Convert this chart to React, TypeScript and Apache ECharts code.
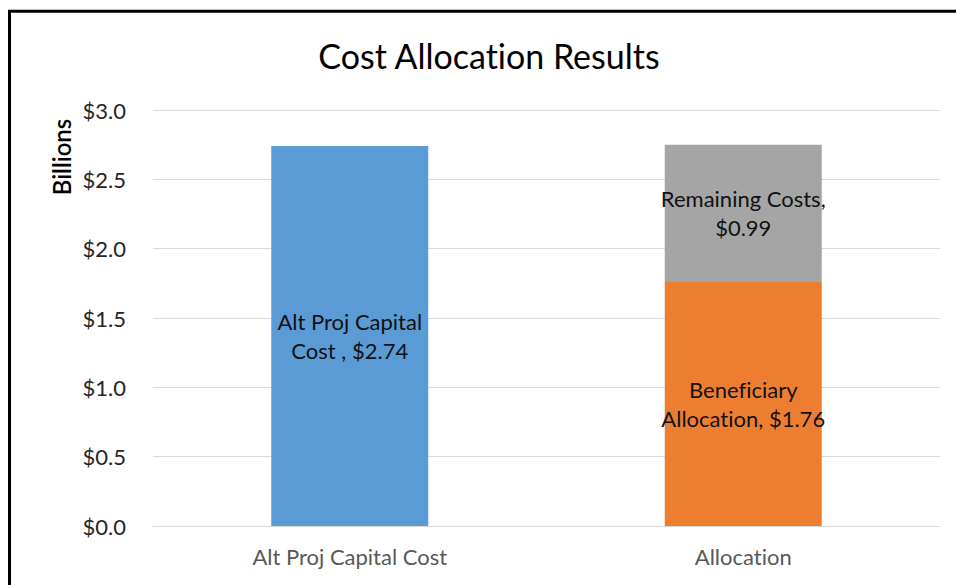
import React, { useEffect, useRef } from "react";
import * as echarts from "echarts";

const categories = ["Alt Proj Capital Cost", "Allocation"];
const capitalCost = [2.74, "-"];
const beneficiary = ["-", 1.76];
const remaining = ["-", 0.99];

const FONT = "Lato, 'Open Sans', sans-serif";

export default function App() {
  const ref = useRef<HTMLDivElement>(null);
  useEffect(() => {
    const chart = echarts.init(ref.current!, undefined, { renderer: "svg" });
    const labelStyle = {
      show: true,
      position: "inside",
      fontFamily: FONT,
      fontSize: 22,
      lineHeight: 29,
      color: "#111111",
    };
    chart.setOption({
      animation: false,
      backgroundColor: "#ffffff",
      title: {
        text: "Cost Allocation Results",
        left: 484,
        top: 33,
        textAlign: "center",
        textStyle: { fontFamily: FONT, fontSize: 34, fontWeight: "normal", color: "#000000" },
      },
      graphic: [
        {
          type: "rect",
          shape: { x: 9.5, y: 11.3, width: 1200, height: 1200 },
          style: { fill: "none", stroke: "#000000", lineWidth: 3 },
          silent: true,
        },
        {
          type: "text",
          x: 61,
          y: 157,
          rotation: Math.PI / 2,
          style: {
            text: "Billions",
            fontFamily: FONT,
            fontSize: 24,
            fontWeight: 600,
            fill: "#000000",
            align: "center",
            verticalAlign: "middle",
          },
        },
      ],
      grid: { left: 153, right: 16, top: 110, bottom: 59, containLabel: false },
      xAxis: {
        type: "category",
        data: categories,
        axisLine: { show: true, lineStyle: { color: "#D9D9D9", width: 1 } },
        axisTick: { show: false },
        axisLabel: { fontFamily: FONT, fontSize: 22, color: "#595959", margin: 19 },
      },
      yAxis: {
        type: "value",
        min: 0,
        max: 3,
        interval: 0.5,
        axisLine: { show: false },
        axisTick: { show: false },
        splitLine: { lineStyle: { color: "#D9D9D9", width: 1 } },
        axisLabel: {
          fontFamily: FONT,
          fontSize: 22,
          color: "#262626",
          margin: 27,
          formatter: (v: number) => "$" + v.toFixed(1),
        },
      },
      series: [
        {
          name: "Alt Proj Capital Cost",
          type: "bar",
          stack: "total",
          barWidth: 157,
          data: capitalCost,
          itemStyle: { color: "#5B9BD5" },
          label: { ...labelStyle, formatter: "Alt Proj Capital\nCost , $2.74" },
        },
        {
          name: "Beneficiary Allocation",
          type: "bar",
          stack: "total",
          barWidth: 157,
          data: beneficiary,
          itemStyle: { color: "#ED7D31" },
          label: { ...labelStyle, formatter: "Beneficiary\nAllocation, $1.76" },
        },
        {
          name: "Remaining Costs",
          type: "bar",
          stack: "total",
          barWidth: 157,
          data: remaining,
          itemStyle: { color: "#A5A5A5" },
          label: { ...labelStyle, formatter: "Remaining Costs,\n$0.99" },
        },
      ],
    });
    return () => chart.dispose();
  }, []);
  return (
    <div
      ref={ref}
      style={{
        position: "absolute",
        left: 0,
        top: 0,
        width: 956,
        height: 585,
        fontVariantLigatures: "none",
      }}
    />
  );
}
